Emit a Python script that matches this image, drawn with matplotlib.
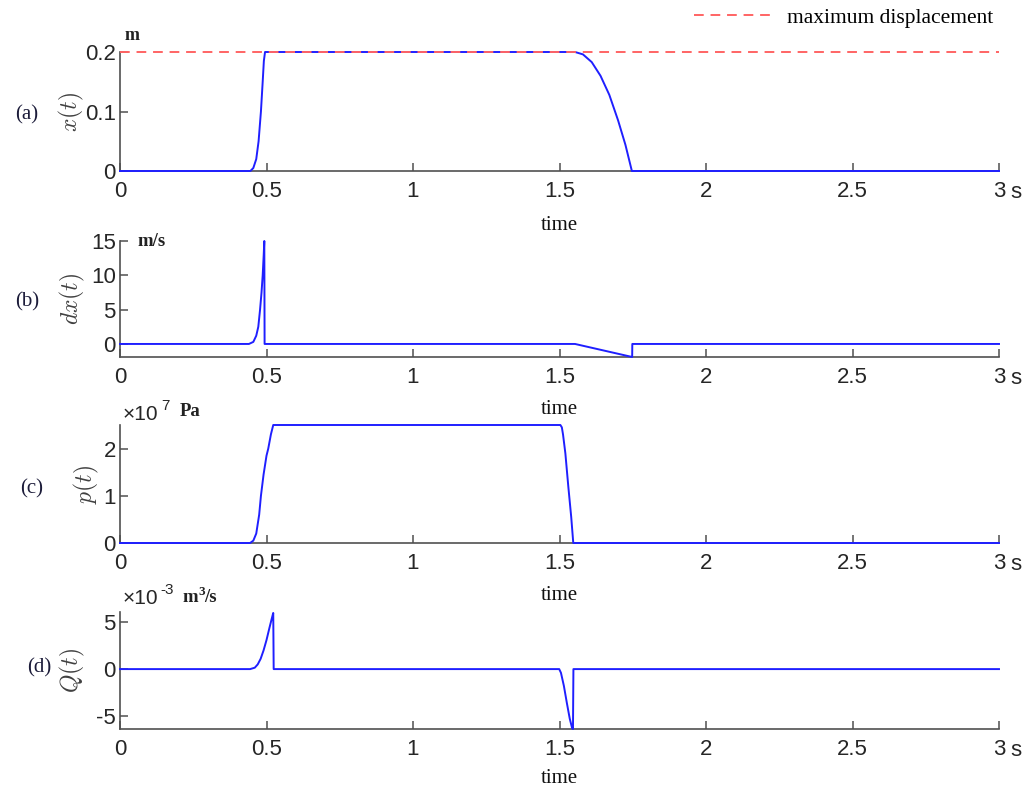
import numpy as np
import matplotlib
matplotlib.use("Agg")
import matplotlib.pyplot as plt

plt.rcParams['mathtext.fontset'] = 'cm'
plt.rcParams['font.family'] = ['Liberation Sans', 'DejaVu Sans']

# values
t_x = [0, 0.445, 0.455, 0.465, 0.473, 0.481, 0.487, 0.491, 0.495,
       1.553, 1.58, 1.61, 1.64, 1.67, 1.70, 1.725, 1.747, 3.0]
x_vals = [0, 0, 0.005, 0.02, 0.05, 0.1, 0.15, 0.185, 0.2,
          0.2, 0.196, 0.183, 0.160, 0.128, 0.085, 0.044, 0, 0]
x_max = 0.2

t_dx = [0, 0.44, 0.455, 0.465, 0.472, 0.478, 0.483, 0.487, 0.4905, 0.4925, 0.4935,
        1.553, 1.748, 1.7485, 3.0]
dx_vals = [0, 0, 0.3, 1.2, 2.5, 5.0, 7.5, 10.0, 13.0, 15.0, 0,
           0, -1.9, 0, 0]

t_p = [0, 0.444, 0.455, 0.465, 0.475, 0.481, 0.49, 0.5, 0.506, 0.515, 0.523,
       1.503, 1.508, 1.512, 1.52, 1.53, 1.54, 1.547, 3.0]
p_vals = [0, 0, 0.05, 0.2, 0.6, 1.0, 1.45, 1.85, 2.0, 2.3, 2.5,
          2.5, 2.45, 2.3, 1.9, 1.2, 0.55, 0, 0]   # x 1e7 Pa

t_Q = [0, 0.444, 0.46, 0.47, 0.48, 0.49, 0.5, 0.51, 0.518, 0.523, 0.5245,
       1.499, 1.505, 1.515, 1.525, 1.535, 1.543, 1.546, 1.5475, 3.0]
Q_vals = [0, 0, 0.15, 0.5, 1.1, 2.0, 3.1, 4.4, 5.4, 6.0, 0,
          0, -0.4, -1.8, -3.6, -5.3, -6.3, -6.4, 0, 0]   # x 1e-3 m^3/s

xticks = [0, 0.5, 1, 1.5, 2, 2.5, 3]
xticklabels = ['0', '0.5', '1', '1.5', '2', '2.5', '3']

blue = '#1f1fff'
spine_col = '#505050'
txt_col = '#262626'
serif = ['Liberation Serif', 'DejaVu Serif']
W, H = 1036, 789

fig = plt.figure(figsize=(10.36, 7.89), dpi=100)

# pixel boxes (top, bottom) of each panel
boxes = [(52, 171), (241, 357), (425, 543), (612, 729)]
left_px, right_px = 120, 999
axes = []
for top, bot in boxes:
    ax = fig.add_axes([left_px / W, 1 - bot / H, (right_px - left_px) / W, (bot - top) / H])
    axes.append(ax)

series = [(t_x, x_vals), (t_dx, dx_vals), (t_p, p_vals), (t_Q, Q_vals)]
ylims = [(0, 0.2), (-1.9, 15), (0, 2.5), (-6.4, 6.1)]
yticks = [[0, 0.1, 0.2], [0, 5, 10, 15], [0, 1, 2], [-5, 0, 5]]
yticklabels = [['0', '0.1', '0.2'], ['0', '5', '10', '15'], ['0', '1', '2'], ['-5', '0', '5']]
ylabels = ['$x(t)$', '$dx(t)$', '$p(t)$', '$Q(t)$']
ylabel_px = [71, 72, 86, 72]
xlabel_pads = [10, 9, 9, 7]
panel_tags = ['(a)', '(b)', '(c)', '(d)']
tag_px = [(27, 115), (27, 302), (32, 489), (39, 668)]

for i, ax in enumerate(axes):
    t, v = series[i]
    ax.plot(t, v, color=blue, lw=1.4, clip_on=False, zorder=3)
    ax.set_xlim(0, 3)
    ax.set_ylim(*ylims[i])
    ax.set_xticks(xticks)
    ax.set_xticklabels(xticklabels)
    ax.set_yticks(yticks[i])
    ax.set_yticklabels(yticklabels[i])
    for s in ['top', 'right']:
        ax.spines[s].set_visible(False)
    for s in ['left', 'bottom']:
        ax.spines[s].set_color(spine_col)
        ax.spines[s].set_linewidth(1.2)
    ax.tick_params(direction='in', length=6, width=1.1, color=spine_col,
                   labelsize=16, labelcolor=txt_col)
    ax.tick_params(axis='x', pad=7)
    ax.tick_params(axis='y', pad=3)
    ax.set_xlabel('time', family=serif, fontsize=15, color='#111111', labelpad=xlabel_pads[i])
    ax.set_ylabel(ylabels[i], fontsize=17, color='#404040')
    ax.yaxis.label.set_va('center')
    ax.yaxis.set_label_coords((ylabel_px[i] - left_px) / (right_px - left_px), 0.5)
    ax.annotate('s', xy=(1, 0), xycoords='axes fraction', xytext=(8, -8),
                textcoords='offset points', ha='left', va='top', fontsize=16, color=txt_col)
    fig.text(tag_px[i][0] / W, 1 - tag_px[i][1] / H, panel_tags[i], family=serif,
             fontsize=15, color='#1c1c3a', ha='center', va='center')

# maximum displacement line
axes[0].plot([0, 3], [x_max, x_max], color='#ff6464', lw=1.4, dashes=(5, 3.5),
             clip_on=False, zorder=4, label='maximum displacement')
leg = axes[0].legend(loc='center right', bbox_to_anchor=((993 - left_px) / (right_px - left_px), (171 - 18) / 119),
                     frameon=False, borderpad=0, borderaxespad=0, handlelength=3.6, handletextpad=0.7,
                     prop={'family': serif, 'size': 15.5})

# unit annotations
fig.text(125 / W, 1 - 35 / H, 'm', family=serif, fontsize=13, fontweight='bold',
         color='#222222', ha='left', va='center')
fig.text(137 / W, 1 - 241 / H, 'm/s', family=serif, fontsize=13.5, fontweight='bold',
         color='#222222', ha='left', va='center')
fig.text(123 / W, 1 - 414 / H, '\u00d710', fontsize=15, color=txt_col, ha='left', va='center')
fig.text(161 / W, 1 - 406 / H, '7', fontsize=11, color=txt_col, ha='left', va='center')
fig.text(180 / W, 1 - 412 / H, 'Pa', family=serif, fontsize=13.5, fontweight='bold',
         color='#222222', ha='left', va='center')
fig.text(123 / W, 1 - 599 / H, '\u00d710', fontsize=15, color=txt_col, ha='left', va='center')
fig.text(160 / W, 1 - 590 / H, '-3', fontsize=11, color=txt_col, ha='left', va='center')
fig.text(182 / W, 1 - 598 / H, 'm', family=serif, fontsize=13.5, fontweight='bold',
         color='#222222', ha='left', va='center')
fig.text(198 / W, 1 - 592 / H, '3', family=serif, fontsize=9.5, fontweight='bold',
         color='#222222', ha='left', va='center')
fig.text(204 / W, 1 - 598 / H, '/s', family=serif, fontsize=13.5, fontweight='bold',
         color='#222222', ha='left', va='center')

fig.savefig('out.png', dpi=100)
